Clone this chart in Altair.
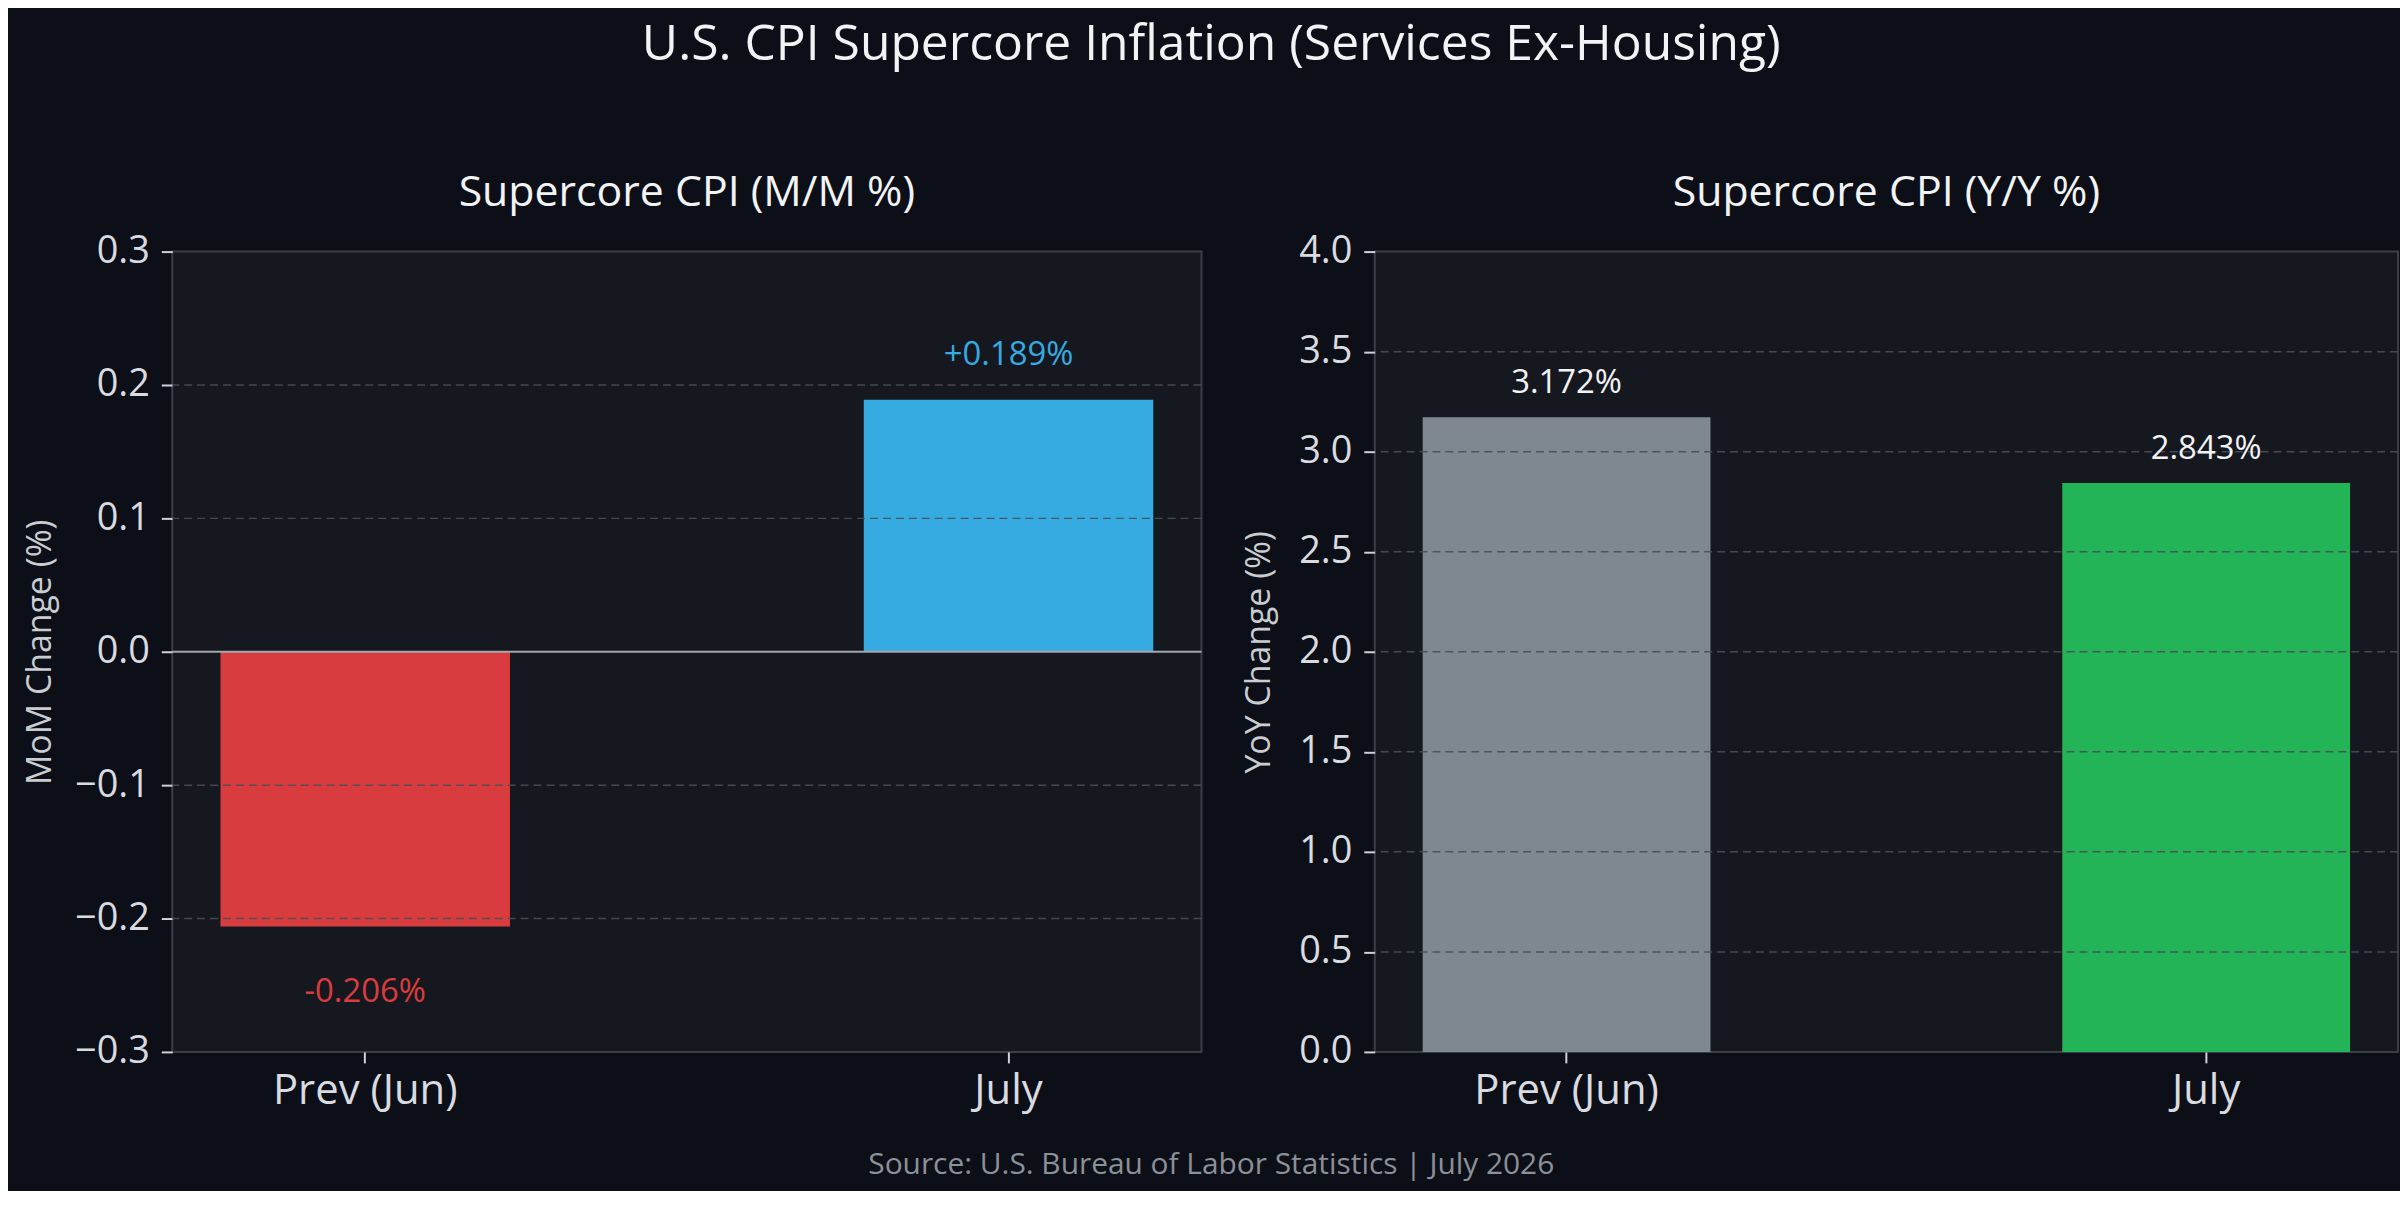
import altair as alt
import pandas as pd

# ---------------- data ----------------
categories = ["Prev (Jun)", "July"]
mom_values = [-0.206, 0.189]
yoy_values = [3.172, 2.843]
mom_ticks = [-0.3, -0.2, -0.1, 0.0, 0.1, 0.2, 0.3]
yoy_ticks = [0.0, 0.5, 1.0, 1.5, 2.0, 2.5, 3.0, 3.5, 4.0]

main_title = "U.S. CPI Supercore Inflation (Services Ex-Housing)"
mom_title = "Supercore CPI (M/M %)"
yoy_title = "Supercore CPI (Y/Y %)"
mom_axis_title = "MoM Change (%)"
yoy_axis_title = "YoY Change (%)"
source_text = "Source: U.S. Bureau of Labor Statistics | July 2026"

# ---------------- styles ----------------
mom_colors = ["#d93c3e", "#35abe1"]
yoy_colors = ["#7f8790", "#22b456"]
FONT = "Open Sans"
BG = "#0c0f17"
PANEL = "#16181f"
FRAME = "#3b3e46"
GRID = "#4a4e57"
ZERO = "#a3a7ae"
TEXT = "#f2f3f5"
LABEL = "#d9dbe0"

mom_df = pd.DataFrame({
    "cat": categories,
    "value": mom_values,
    "label": [f"{v:+.3f}%" for v in mom_values],
})
yoy_df = pd.DataFrame({
    "cat": categories,
    "value": yoy_values,
    "label": [f"{v:.3f}%" for v in yoy_values],
})
mom_grid = pd.DataFrame({"value": [t for t in mom_ticks if t not in (mom_ticks[0], mom_ticks[-1], 0.0)]})
yoy_grid = pd.DataFrame({"value": [t for t in yoy_ticks if t not in (yoy_ticks[0], yoy_ticks[-1])]})
zero_df = pd.DataFrame({"value": [0.0]})


def x_enc():
    return alt.X(
        "cat:N",
        sort=categories,
        scale=alt.Scale(paddingInner=0.55, paddingOuter=0.075),
        axis=alt.Axis(
            title=None, labelAngle=0, labelFontSize=42, labelColor=LABEL,
            labelPadding=8, labelLimit=0, tickSize=11, tickWidth=2, tickColor="#cfd2d6",
            domain=False, grid=False,
        ),
    )


def y_enc(ticks, title, title_pad):
    return alt.Y(
        "value:Q",
        scale=alt.Scale(domain=[ticks[0], ticks[-1]], nice=False, zero=False),
        axis=alt.Axis(
            values=ticks, format=".1f", title=title, titleFontSize=34,
            titleFontWeight="normal", titleColor="#c9ccd1", titlePadding=title_pad,
            labelFontSize=38, labelColor=LABEL, labelPadding=12,
            tickSize=11, tickWidth=2, tickColor="#cfd2d6",
            domain=False, grid=False,
        ),
    )


def panel(df, grid_df, ticks, colors, title, axis_title, title_pad, width, signed):
    yscale = y_enc(ticks, axis_title, title_pad)
    color = alt.Color("cat:N", scale=alt.Scale(domain=categories, range=colors), legend=None)
    bars = alt.Chart(df).mark_bar().encode(x=x_enc(), y=yscale, color=color)
    grid = alt.Chart(grid_df).mark_rule(color=GRID, strokeDash=[8, 5], strokeWidth=1.5, opacity=0.9).encode(
        y=alt.Y("value:Q")
    )
    layers = [bars, grid]
    if signed:
        zero = alt.Chart(zero_df).mark_rule(color=ZERO, strokeWidth=2).encode(y=alt.Y("value:Q"))
        pos = alt.Chart(df).transform_filter("datum.value >= 0").mark_text(
            baseline="middle", dy=-45, fontSize=33
        ).encode(x=x_enc(), y=alt.Y("value:Q"), text="label:N", color=color)
        neg = alt.Chart(df).transform_filter("datum.value < 0").mark_text(
            baseline="middle", dy=66, fontSize=33
        ).encode(x=x_enc(), y=alt.Y("value:Q"), text="label:N", color=color)
        layers += [zero, pos, neg]
    else:
        lab = alt.Chart(df).mark_text(baseline="middle", dy=-34, fontSize=33, color=TEXT).encode(
            x=x_enc(), y=alt.Y("value:Q"), text="label:N"
        )
        layers += [lab]
    return alt.layer(*layers).properties(
        width=width,
        height=804,
        title=alt.TitleParams(
            title, fontSize=43, color=TEXT, fontWeight="normal",
            anchor="middle", frame="group", offset=18,
        ),
    )


left = panel(mom_df, mom_grid, mom_ticks, mom_colors, mom_title, mom_axis_title, 17, 1034, True)
right = panel(yoy_df, yoy_grid, yoy_ticks, yoy_colors, yoy_title, yoy_axis_title, 22, 1028, False)

inner = alt.hconcat(left, right, spacing=38).resolve_scale(color="independent").properties(
    title=alt.TitleParams(
        source_text, orient="bottom", anchor="middle", fontSize=30,
        color="#8c9098", fontWeight="normal", offset=38,
    )
)

chart = alt.vconcat(inner).properties(
    title=alt.TitleParams(
        main_title, fontSize=50, color=TEXT, fontWeight="normal",
        anchor="middle", offset=101,
    ),
    background=BG,
    padding={"left": 14, "top": 10, "right": 0, "bottom": 8},
).configure(font=FONT).configure_view(
    fill=PANEL, stroke=FRAME, strokeWidth=2
).configure_title(font=FONT)

chart.save("out.html", embed_options={"renderer": "svg", "actions": False})
